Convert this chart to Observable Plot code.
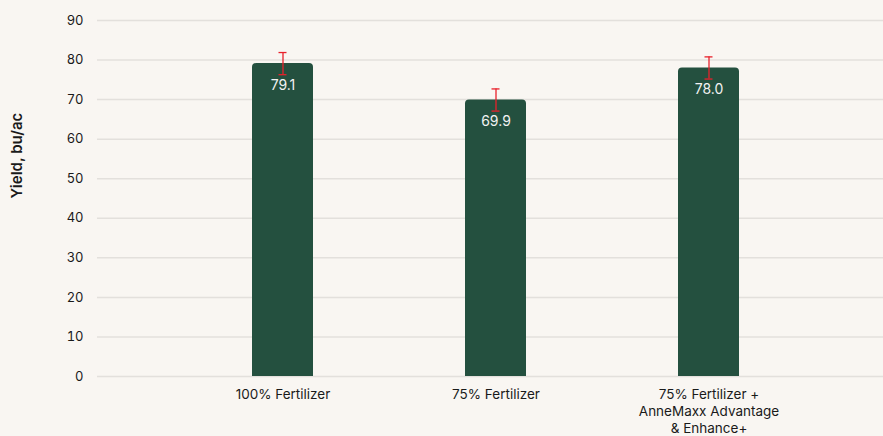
<!DOCTYPE html>
<html>
<head>
<meta charset="utf-8">
<script src="https://cdn.jsdelivr.net/npm/d3@7"></script>
<script src="https://cdn.jsdelivr.net/npm/@observablehq/plot@0.6"></script>
<style>
  html, body { margin: 0; padding: 0; background: #f9f6f2; }
  #chart { width: 883px; height: 436px; }
  svg { font-family: Inter, "Noto Sans", sans-serif; }
</style>
</head>
<body>
<div id="chart"></div>
<script>
const categories = ["100% Fertilizer", "75% Fertilizer", "75% Fertilizer +\nAnneMaxx Advantage\n& Enhance+"];
const yields = [79.1, 69.9, 78.0];
const errors = [2.8, 2.8, 2.8];
const yTicks = [0, 10, 20, 30, 40, 50, 60, 70, 80, 90];

const data = categories.map((c, i) => ({cat: c, y: yields[i], lo: yields[i] - errors[i], hi: yields[i] + errors[i]}));

const chart = Plot.plot({
  width: 883,
  height: 436,
  marginLeft: 97,
  marginRight: 0,
  marginTop: 20,
  marginBottom: 60,
  style: {background: "#f9f6f2", fontFamily: "Inter, sans-serif", fontSize: "13px", color: "#1a1a1a"},
  x: {domain: categories, range: [174.75, 815.25], paddingInner: 0.714, paddingOuter: 0.357, label: null},
  y: {domain: [0, 90], label: null},
  marks: [
    Plot.gridY(yTicks, {stroke: "#e3e0dc", strokeOpacity: 1, strokeWidth: 1.5}),
    Plot.axisY({ticks: yTicks, tickSize: 0, tickPadding: 14, label: null, fontSize: 13}),
    Plot.axisX({tickSize: 0, tickPadding: 11, label: null, fontSize: 13.5, lineHeight: 1.24}),
    Plot.barY(data, {x: "cat", y: "y", fill: "#24503f", ry1: 4}),
    Plot.ruleX(data, {x: "cat", y1: "lo", y2: "hi", stroke: "#e8212b", strokeWidth: 1.3}),
    Plot.tickY(data, {x: "cat", y: "lo", stroke: "#e8212b", strokeWidth: 1.3, insetLeft: 26.5, insetRight: 26.5}),
    Plot.tickY(data, {x: "cat", y: "hi", stroke: "#e8212b", strokeWidth: 1.3, insetLeft: 26.5, insetRight: 26.5}),
    Plot.text(data, {x: "cat", y: "y", text: d => d.y.toFixed(1), dy: 22, fill: "#f2f2f2", fontSize: 14}),
    Plot.text(["Yield, bu/ac"], {frameAnchor: "left", dx: -80, rotate: -90, fontSize: 15, fontWeight: 600, fill: "#1a1a1a"})
  ]
});
document.getElementById("chart").append(chart);
</script>
</body>
</html>
